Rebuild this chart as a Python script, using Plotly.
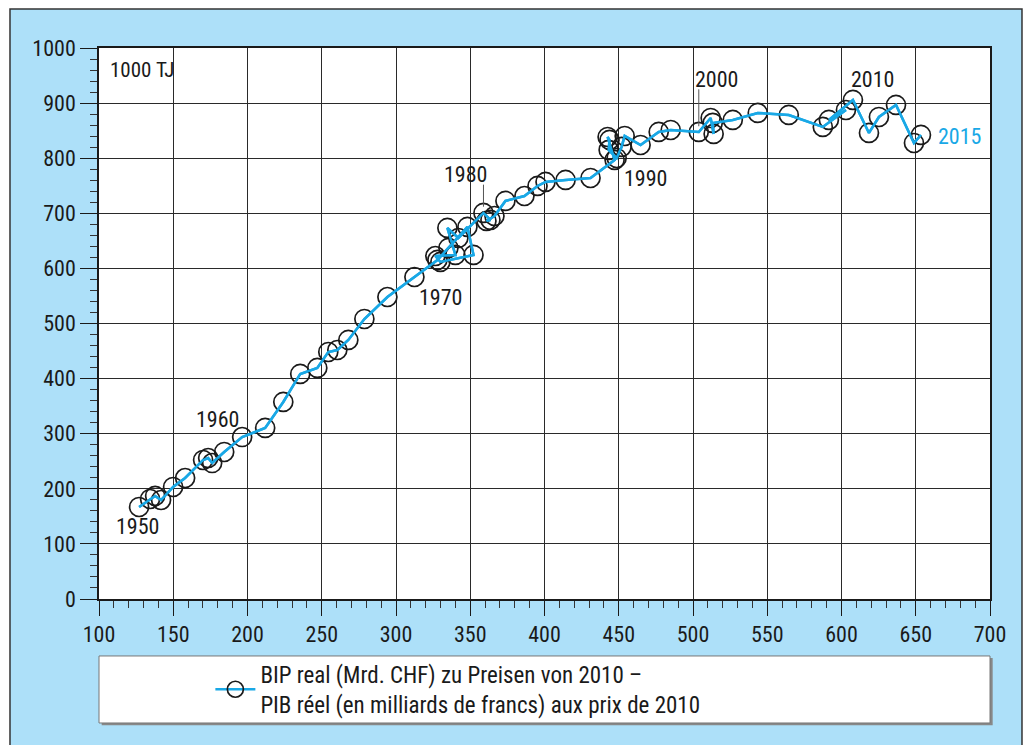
import plotly.graph_objects as go

years = list(range(1950, 2016))
gdp = [127.0, 134.4, 137.8, 141.8, 149.9, 158.0, 170.1, 173.5, 176.2, 184.3,
       196.4, 211.9, 224.1, 235.5, 247.0, 254.4, 260.5, 267.9, 278.7, 294.2,
       312.4, 327.9, 335.3, 348.1, 352.2, 329.9, 326.5, 340.0, 334.6, 342.0,
       358.9, 363.6, 360.9, 366.3, 373.7, 386.5, 395.3, 400.7, 414.2, 431.0,
       447.2, 442.5, 443.8, 443.2, 448.6, 451.9, 454.0, 464.7, 476.9, 485.0,
       503.9, 511.9, 513.9, 513.3, 526.8, 543.6, 564.5, 587.4, 603.0, 591.5,
       607.7, 618.5, 625.2, 636.7, 648.8, 653.5]
energy = [167.0, 181.5, 187.0, 179.7, 203.3, 219.6, 252.3, 255.9, 246.8, 266.8,
          294.0, 310.4, 357.6, 408.4, 419.3, 448.3, 451.9, 470.1, 508.2, 548.1,
          584.4, 615.3, 637.1, 675.2, 624.4, 611.7, 622.5, 624.4, 673.4, 655.2,
          700.6, 687.9, 686.1, 695.1, 722.4, 731.4, 749.6, 756.9, 760.5, 764.1,
          796.8, 838.5, 833.1, 815.0, 800.4, 820.4, 840.3, 824.0, 847.6, 851.2,
          847.6, 873.0, 844.0, 864.0, 869.4, 882.1, 878.5, 856.7, 887.5, 869.4,
          905.7, 845.8, 874.8, 896.6, 827.6, 842.2]

label_years = ["1950", "1960", "1970", "1980", "1990", "2000", "2010"]
label_x = [125.6, 179.6, 329.9, 346.8, 468.1, 516.0, 621.2]
label_y = [130.7, 325.0, 548.0, 771.0, 764.0, 942.0, 942.0]

legend_text = ("BIP real (Mrd. CHF) zu Preisen von 2010 –<br>"
               "PIB réel (en milliards de francs) aux prix de 2010")
unit_text = "1000 TJ"

FONT = "Roboto Condensed, Arial Narrow, sans-serif"
BLUE = "#19a8e6"
BG = "#ade0f9"
INK = "#1a1a1a"

fig = go.Figure()
fig.add_trace(go.Scatter(
    x=gdp, y=energy, mode="lines+markers", name=legend_text,
    line=dict(color=BLUE, width=2.5),
    marker=dict(symbol="circle-open", size=19, color=INK, line=dict(width=1.7, color=INK)),
    showlegend=True, hoverinfo="skip"))
fig.add_trace(go.Scatter(
    x=gdp, y=energy, mode="lines", line=dict(color=BLUE, width=2.5),
    showlegend=False, hoverinfo="skip"))

for t, xv, yv in zip(label_years, label_x, label_y):
    fig.add_annotation(x=xv, y=yv, text=t, showarrow=False, xref="x", yref="y",
                       font=dict(family=FONT, size=22, color=INK))
fig.add_annotation(x=663.6, y=840, text="2015", showarrow=False, xanchor="left",
                   font=dict(family=FONT, size=22, color=BLUE))
fig.add_annotation(x=0.01, y=0.96, xref="paper", yref="paper", text=unit_text,
                   showarrow=False, xanchor="left", yanchor="middle",
                   font=dict(family=FONT, size=21, color=INK))

# leader lines
fig.add_shape(type="line", x0=gdp[30], x1=gdp[30], y0=752, y1=712,
              line=dict(color="#555", width=1))
fig.add_shape(type="line", x0=gdp[50], x1=gdp[50], y0=925, y1=858,
              line=dict(color="#555", width=1))

# outer frame: white margins + black border
fig.add_shape(type="rect", xref="paper", yref="paper", x0=-0.2, x1=-0.0999, y0=-0.4, y1=1.2,
              fillcolor="white", line=dict(width=0), layer="below")
fig.add_shape(type="rect", xref="paper", yref="paper", x0=-0.2, x1=1.2, y0=1.0708, y1=1.2,
              fillcolor="white", line=dict(width=0), layer="below")
fig.add_shape(type="rect", xref="paper", yref="paper", x0=1.0359, x1=1.2, y0=-0.4, y1=1.2,
              fillcolor="white", line=dict(width=0), layer="below")
fig.add_shape(type="rect", xref="paper", yref="paper", x0=-0.0999, x1=1.0359, y0=-0.3, y1=1.0708,
              fillcolor="rgba(0,0,0,0)", line=dict(color="#333", width=1.5), layer="below")

# legend box with shadow
fig.add_shape(type="rect", xref="paper", yref="paper", x0=0.003, x1=1.003, y0=-0.229, y1=-0.107,
              fillcolor="#888", line=dict(width=0), layer="below")
fig.add_shape(type="rect", xref="paper", yref="paper", x0=0.0, x1=1.0, y0=-0.225, y1=-0.1034,
              fillcolor="white", line=dict(color="#777", width=1), layer="below")

fig.update_layout(
    width=1024, height=737,
    margin=dict(l=91, r=42, t=40, b=146),
    paper_bgcolor=BG, plot_bgcolor="white",
    font=dict(family=FONT, size=22, color=INK),
    showlegend=True,
    legend=dict(x=0.125, y=-0.164, xanchor="left", yanchor="middle",
                bgcolor="rgba(0,0,0,0)", borderwidth=0,
                font=dict(family=FONT, size=23, color=INK), itemwidth=40),
)
fig.update_xaxes(range=[100, 700], dtick=50, tick0=100,
                 showgrid=True, gridcolor="#2a2a2a", gridwidth=1.4,
                 showline=True, linecolor="#1a1a1a", linewidth=1.6, mirror=True,
                 ticks="outside", ticklen=15, tickwidth=1.3, tickcolor="#1a1a1a",
                 minor=dict(dtick=10, ticks="outside", ticklen=7, tickwidth=1, tickcolor="#333", showgrid=False),
                 tickfont=dict(family=FONT, size=22, color=INK), zeroline=False)
fig.update_yaxes(range=[0, 1000], dtick=100, tick0=0,
                 showgrid=True, gridcolor="#2a2a2a", gridwidth=1.4,
                 showline=True, linecolor="#1a1a1a", linewidth=1.6, mirror=True,
                 ticks="outside", ticklen=17, tickwidth=1.3, tickcolor="#1a1a1a",
                 minor=dict(dtick=20, ticks="outside", ticklen=7, tickwidth=1, tickcolor="#333", showgrid=False),
                 tickfont=dict(family=FONT, size=22, color=INK), zeroline=False)

fig.write_html("out.html")
